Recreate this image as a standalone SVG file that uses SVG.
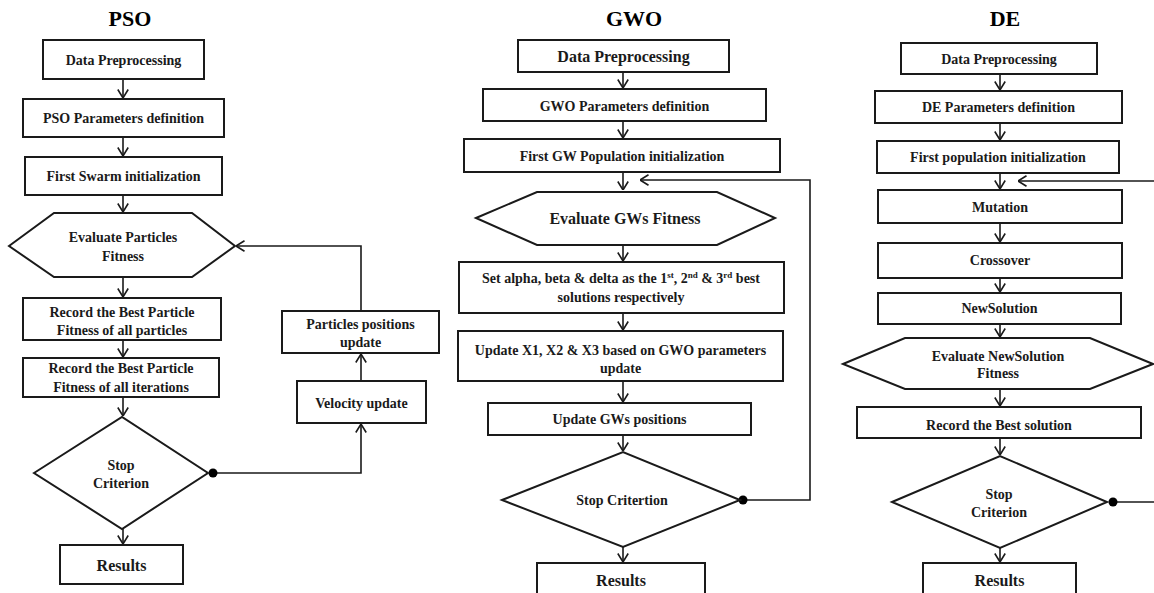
<svg xmlns="http://www.w3.org/2000/svg" width="1154" height="593" viewBox="0 0 1154 593">
<style>
.box{fill:#fff;stroke:#1a1a1a;stroke-width:2}
.t{font-family:"Liberation Serif","Times New Roman",serif;font-weight:bold;font-size:14px;fill:#1a1a1a;text-anchor:middle}
.big{font-size:16px}
.title{font-family:"Liberation Serif","Times New Roman",serif;font-weight:bold;font-size:22px;fill:#000;text-anchor:middle}
.c{fill:none;stroke:#1a1a1a;stroke-width:1.6}
.a{marker-end:url(#arr)}
</style>
<defs>
<marker id="arr" viewBox="0 0 10 12" refX="10" refY="6" markerWidth="10" markerHeight="12" markerUnits="userSpaceOnUse" orient="auto">
<path d="M1.5,0.8 L10,6 L1.5,11.2" fill="none" stroke="#1a1a1a" stroke-width="1.6"/>
</marker>
</defs>
<rect width="1154" height="593" fill="#fff"/>

<text class="title" x="130" y="26">PSO</text>
<text class="title" x="634" y="26">GWO</text>
<text class="title" x="1005" y="26">DE</text>

<g id="connectors">
<!-- PSO -->
<line class="c a" x1="123" y1="79" x2="123" y2="98"/>
<line class="c a" x1="123" y1="137" x2="123" y2="156"/>
<line class="c a" x1="123" y1="195" x2="123" y2="212"/>
<line class="c a" x1="123" y1="277" x2="123" y2="297"/>
<line class="c a" x1="123" y1="340" x2="123" y2="357"/>
<line class="c a" x1="123" y1="397" x2="123" y2="416"/>
<line class="c a" x1="123" y1="529" x2="123" y2="544"/>
<polyline class="c a" points="210,473 361,473 361,424"/>
<line class="c a" x1="361" y1="381" x2="361" y2="354"/>
<polyline class="c a" points="361,311 361,246 236,246"/>
<circle cx="213" cy="473" r="4.5" fill="#000"/>
<!-- GWO -->
<line class="c a" x1="623" y1="72" x2="623" y2="88"/>
<line class="c a" x1="623" y1="121" x2="623" y2="138"/>
<line class="c a" x1="623" y1="172" x2="623" y2="190"/>
<polyline class="c a" points="743,500 810,500 810,180 640,180"/>
<line class="c a" x1="623" y1="245" x2="623" y2="261"/>
<line class="c a" x1="623" y1="313" x2="623" y2="330"/>
<line class="c a" x1="623" y1="381" x2="623" y2="402"/>
<line class="c a" x1="623" y1="435" x2="623" y2="451"/>
<line class="c a" x1="623" y1="547" x2="623" y2="562"/>
<circle cx="743" cy="500" r="4.5" fill="#000"/>
<!-- DE -->
<line class="c a" x1="1000" y1="74" x2="1000" y2="90"/>
<line class="c a" x1="1000" y1="123" x2="1000" y2="140"/>
<line class="c a" x1="1000" y1="173" x2="1000" y2="189"/>
<line class="c a" x1="1154" y1="181" x2="1018" y2="181"/>
<line class="c a" x1="1000" y1="223" x2="1000" y2="242"/>
<line class="c a" x1="1000" y1="278" x2="1000" y2="292"/>
<line class="c a" x1="1000" y1="324" x2="1000" y2="337"/>
<line class="c a" x1="1000" y1="389" x2="1000" y2="406"/>
<line class="c a" x1="1000" y1="438" x2="1000" y2="455"/>
<line class="c a" x1="1000" y1="548" x2="1000" y2="562"/>
<line class="c" x1="1110" y1="502" x2="1154" y2="502"/>
<circle cx="1113" cy="502" r="4.5" fill="#000"/>
</g>

<!-- PSO nodes -->
<g id="pso-data"><rect class="box" x="43" y="40" width="161" height="39"/><text class="t" x="123.5" y="65">Data Preprocessing</text></g>
<g id="pso-params"><rect class="box" x="23" y="99" width="201" height="38"/><text class="t" x="123.5" y="123">PSO Parameters definition</text></g>
<g id="pso-init"><rect class="box" x="25" y="157" width="197" height="38"/><text class="t" x="123.5" y="181">First Swarm initialization</text></g>
<g id="pso-eval"><polygon class="box" points="9,246 54,213 192,213 235,246 192,277 54,277"/><text class="t" x="123" y="242">Evaluate Particles</text><text class="t" x="123" y="261">Fitness</text></g>
<g id="pso-rec1"><rect class="box" x="23" y="298" width="198" height="42"/><text class="t" x="122" y="317">Record the Best Particle</text><text class="t" x="122" y="335">Fitness of all particles</text></g>
<g id="pso-rec2"><rect class="box" x="23" y="358" width="196" height="39"/><text class="t" x="121" y="373">Record the Best Particle</text><text class="t" x="121" y="392">Fitness of all iterations</text></g>
<g id="pso-stop"><polygon class="box" points="34,473 122,417 208,473 122,529"/><text class="t" x="121" y="470">Stop</text><text class="t" x="121" y="488">Criterion</text></g>
<g id="pso-results"><rect class="box" x="60" y="545" width="123" height="39"/><text class="t big" x="121.5" y="571">Results</text></g>
<g id="pso-vel"><rect class="box" x="297" y="381" width="129" height="42"/><text class="t" x="361.5" y="408">Velocity update</text></g>
<g id="pso-pos"><rect class="box" x="282" y="311" width="157" height="42"/><text class="t" x="360.5" y="329">Particles positions</text><text class="t" x="360.5" y="347">update</text></g>

<!-- GWO nodes -->
<g id="gwo-data"><rect class="box" x="518" y="40" width="211" height="32"/><text class="t big" x="623.5" y="62">Data Preprocessing</text></g>
<g id="gwo-params"><rect class="box" x="483" y="89" width="283" height="32"/><text class="t" x="624.5" y="111">GWO Parameters definition</text></g>
<g id="gwo-init"><rect class="box" x="464" y="139" width="316" height="33"/><text class="t" x="622" y="161">First GW Population initialization</text></g>
<g id="gwo-eval"><polygon class="box" points="476,218 537,192 717,192 775,218 717,245 537,245"/><text class="t big" x="625" y="224">Evaluate GWs Fitness</text></g>
<g id="gwo-set"><rect class="box" x="459" y="262" width="325" height="51"/><text class="t" x="621" y="283">Set alpha, beta &amp; delta as the 1<tspan font-size="9" dy="-5">st</tspan><tspan dy="5">, 2</tspan><tspan font-size="9" dy="-5">nd</tspan><tspan dy="5"> &amp; 3</tspan><tspan font-size="9" dy="-5">rd</tspan><tspan dy="5"> best</tspan></text><text class="t" x="621" y="302">solutions respectively</text></g>
<g id="gwo-upx"><rect class="box" x="458" y="331" width="325" height="50"/><text class="t" x="620.5" y="355">Update X1, X2 &amp; X3 based on GWO parameters</text><text class="t" x="620.5" y="373">update</text></g>
<g id="gwo-pos"><rect class="box" x="488" y="403" width="263" height="32"/><text class="t" x="619.5" y="424">Update GWs positions</text></g>
<g id="gwo-stop"><polygon class="box" points="502,500 623,452 740,500 623,547"/><text class="t" x="622" y="505">Stop Critertion</text></g>
<g id="gwo-results"><rect class="box" x="537" y="563" width="168" height="40"/><text class="t big" x="621" y="586">Results</text></g>

<!-- DE nodes -->
<g id="de-data"><rect class="box" x="901" y="43" width="196" height="31"/><text class="t" x="999" y="64">Data Preprocessing</text></g>
<g id="de-params"><rect class="box" x="875" y="91" width="247" height="32"/><text class="t" x="998.5" y="112">DE Parameters definition</text></g>
<g id="de-init"><rect class="box" x="877" y="141" width="242" height="32"/><text class="t" x="998" y="162">First population initialization</text></g>
<g id="de-mut"><rect class="box" x="878" y="190" width="244" height="33"/><text class="t" x="1000" y="212">Mutation</text></g>
<g id="de-cross"><rect class="box" x="878" y="243" width="244" height="35"/><text class="t" x="1000" y="265">Crossover</text></g>
<g id="de-new"><rect class="box" x="878" y="293" width="243" height="31"/><text class="t" x="999.5" y="313">NewSolution</text></g>
<g id="de-eval"><polygon class="box" points="843,364 905,338 1090,338 1153,364 1090,389 905,389"/><text class="t" x="998" y="361">Evaluate NewSolution</text><text class="t" x="998" y="378">Fitness</text></g>
<g id="de-rec"><rect class="box" x="857" y="407" width="284" height="31"/><text class="t" x="999" y="430">Record the Best solution</text></g>
<g id="de-stop"><polygon class="box" points="892,502 1000,456 1107,502 1000,548"/><text class="t" x="999" y="499">Stop</text><text class="t" x="999" y="517">Criterion</text></g>
<g id="de-results"><rect class="box" x="923" y="563" width="153" height="40"/><text class="t big" x="999.5" y="586">Results</text></g>
</svg>
